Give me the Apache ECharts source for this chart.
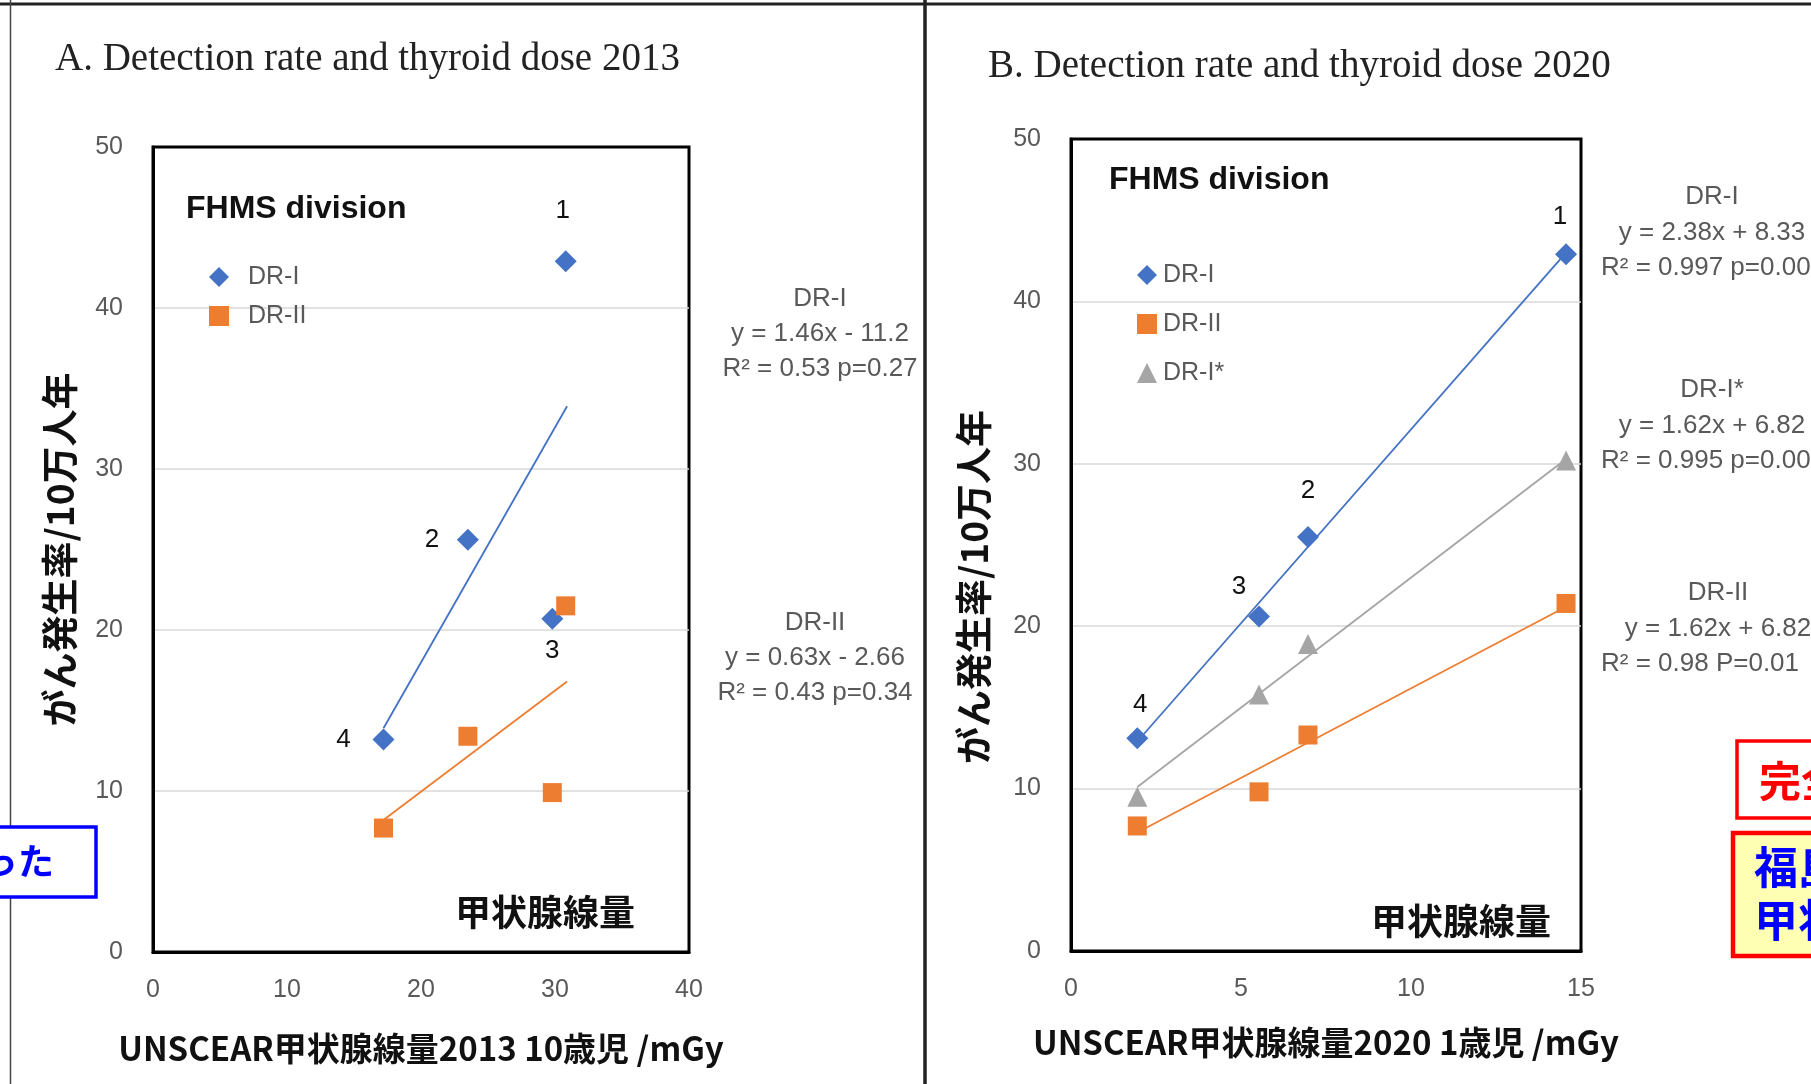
<!DOCTYPE html>
<html>
<head>
<meta charset="utf-8">
<script src="https://cdn.jsdelivr.net/npm/echarts@6/dist/echarts.min.js"></script>
<style>
  html, body { margin: 0; padding: 0; background: #fff; }
  #main { width: 1811px; height: 1084px; }
</style>
</head>
<body>
<div id="main"></div>
<script>
// district numbers 1..4
const pointNames = ['1', '2', '3', '4'];

// A: UNSCEAR 2013 thyroid dose, 10 year old (mGy)
const doseA = [30.8, 23.5, 29.8, 17.2];
const dr1A = [42.9, 25.6, 20.7, 13.2];
const dr2A = [21.5, 13.4, 9.9, 7.7];
const fitDr1A = [[17.2, 13.9], [30.9, 33.9]];
const fitDr2A = [[17.2, 8.2], [30.9, 16.8]];

// B: UNSCEAR 2020 thyroid dose, 1 year old (mGy)
const doseB = [14.56, 6.97, 5.53, 1.95];
const dr1B = [42.9, 25.5, 20.6, 13.1];
const dr2B = [21.4, 13.3, 9.8, 7.7];
const dr1sB = [30.2, 18.9, 15.8, 9.5];
const fitDr1B = [[1.95, 12.9], [14.56, 43.0]];
const fitDr2B = [[1.95, 7.3], [14.56, 21.2]];
const fitDr1sB = [[1.95, 10.1], [14.56, 30.3]];

// trend line texts
const eqA = [['DR-I', 'y = 1.46x - 11.2', 'R² = 0.53 p=0.27'], ['DR-II', 'y = 0.63x - 2.66', 'R² = 0.43 p=0.34']];
const eqB = [['DR-I', 'y = 2.38x + 8.33', 'R² = 0.997 p=0.001'], ['DR-I*', 'y = 1.62x + 6.82', 'R² = 0.995 p=0.002'], ['DR-II', 'y = 1.62x + 6.82', 'R² = 0.98 P=0.01']];

const BLUE = '#4472C4', ORANGE = '#ED7D31', GRAY = '#A5A5A5';
const SANS = 'Liberation Sans, Arial, sans-serif';
const CJK = 'Noto Sans CJK JP, sans-serif';

// label offsets for the point numbers
const offA = [[-3, -50], [-36, 0], [0, 32], [-40, 0]];
const offB = [[-6, -37], [0, -46], [-20, -30], [3, -33]];

function pts(xs, ys) {
  return xs.map(function (x, i) { return [x, ys[i]]; });
}
function labelled(xs, ys, offs) {
  return xs.map(function (x, i) {
    return {
      name: pointNames[i],
      value: [x, ys[i]],
      label: { show: true, position: 'inside', offset: offs[i], formatter: '{b}',
        color: '#111', fontSize: 26, fontFamily: SANS }
    };
  });
}

function xAxis(idx, max, interval, name, gap) {
  return {
    gridIndex: idx, type: 'value', min: 0, max: max, interval: interval,
    name: name, nameLocation: 'middle', nameGap: gap,
    nameTextStyle: { fontFamily: CJK, fontWeight: 'bold', fontSize: 33, color: '#111' },
    axisLine: { show: true, onZero: false, lineStyle: { color: '#000', width: 3 } },
    axisTick: { show: false }, splitLine: { show: false },
    axisLabel: { margin: 26, fontSize: 25, color: '#595959', fontFamily: SANS }
  };
}
function yAxis(idx, gap, pad) {
  return {
    gridIndex: idx, type: 'value', min: 0, max: 50, interval: 10,
    name: 'がん発生率/10万人年', nameLocation: 'middle', nameGap: gap,
    nameTextStyle: { fontFamily: CJK, fontWeight: 'bold', fontSize: 37, color: '#111', padding: pad },
    axisLine: { show: true, onZero: false, lineStyle: { color: '#000', width: 3 } },
    axisTick: { show: false },
    splitLine: { showMinLine: false, showMaxLine: false, lineStyle: { color: '#D9D9D9', width: 1.5 } },
    axisLabel: { margin: 30, fontSize: 25, color: '#595959', fontFamily: SANS }
  };
}
function scatter(name, idx, data, symbol, color, size) {
  return { name: name, type: 'scatter', xAxisIndex: idx, yAxisIndex: idx, data: data,
    symbol: symbol, symbolSize: size, itemStyle: { color: color, opacity: 1 }, z: 5 };
}
function fit(idx, data, color) {
  return { name: 'fit', type: 'line', xAxisIndex: idx, yAxisIndex: idx, data: data,
    showSymbol: false, silent: true, lineStyle: { color: color, width: 1.8 }, z: 3 };
}
function txt(text, x, y, size, opts) {
  opts = opts || {};
  return { type: 'text', z: 10, style: {
    text: text, x: x, y: y, fill: opts.fill || '#595959',
    font: (opts.weight || 'normal') + ' ' + size + 'px ' + (opts.family || SANS),
    align: opts.align || 'center', verticalAlign: 'middle' } };
}

const graphics = [
  { type: 'line', shape: { x1: 0, y1: 4, x2: 1811, y2: 4 }, style: { stroke: '#222', lineWidth: 3 } },
  { type: 'line', shape: { x1: 10.5, y1: 0, x2: 10.5, y2: 1084 }, style: { stroke: '#444', lineWidth: 1.5 } },
  { type: 'line', shape: { x1: 925, y1: 0, x2: 925, y2: 1084 }, style: { stroke: '#222', lineWidth: 3.5 } },
  // partial boxes from the slide
  { type: 'rect', shape: { x: -10, y: 827, width: 106, height: 70 }, style: { fill: '#fff', stroke: '#0000FF', lineWidth: 3.5 } },
  txt('かった', 54, 861, 36, { fill: '#0000FF', weight: 'bold', family: CJK, align: 'right' }),
  { type: 'rect', shape: { x: 1737, y: 741, width: 200, height: 77 }, style: { fill: '#fff', stroke: '#FF0000', lineWidth: 3.5 } },
  txt('完全', 1759, 781, 42, { fill: '#FF0000', weight: 'bold', family: CJK, align: 'left' }),
  { type: 'rect', shape: { x: 1733, y: 833, width: 200, height: 123 }, style: { fill: '#FFFFB3', stroke: '#FF0000', lineWidth: 4.5 } },
  txt('福島県', 1754, 867, 44, { fill: '#0000FF', weight: 'bold', family: CJK, align: 'left' }),
  txt('甲状腺', 1754, 920, 44, { fill: '#0000FF', weight: 'bold', family: CJK, align: 'left' }),
  // titles
  txt('A. Detection rate and thyroid dose 2013', 55, 60, 39, { fill: '#222', family: 'Liberation Serif, serif', align: 'left' }),
  txt('B. Detection rate and thyroid dose 2020', 988, 67, 39, { fill: '#222', family: 'Liberation Serif, serif', align: 'left' }),
  // in-plot texts
  txt('FHMS division', 186, 209, 32, { fill: '#111', weight: 'bold', align: 'left' }),
  txt('FHMS division', 1109, 180, 32, { fill: '#111', weight: 'bold', align: 'left' }),
  txt('甲状腺線量', 545, 912, 36, { fill: '#111', weight: 'bold', family: CJK }),
  txt('甲状腺線量', 1461, 921, 36, { fill: '#111', weight: 'bold', family: CJK })
];
// equations
[[820, 299], [815, 623]].forEach(function (p, i) {
  eqA[i].forEach(function (line, j) { graphics.push(txt(line, p[0], p[1] + j * 35, 26)); });
});
[[1712, 197], [1712, 390], [1718, 593]].forEach(function (p, i) {
  graphics.push(txt(eqB[i][0], p[0], p[1], 26));
  graphics.push(txt(eqB[i][1], p[0], p[1] + 36, 26));
  graphics.push(txt(eqB[i][2], 1601, p[1] + 71, 26, { align: 'left' }));
});

const legendBase = {
  orient: 'vertical', itemWidth: 20, itemHeight: 20,
  textStyle: { fontSize: 25, color: '#595959', fontFamily: SANS, lineHeight: 30 },
  selectedMode: false
};

const chart = echarts.init(document.getElementById('main'));
chart.setOption({
  animation: false,
  backgroundColor: '#fff',
  grid: [
    { left: 153, top: 147, width: 536, height: 805, show: true, borderColor: '#000', borderWidth: 3 },
    { left: 1071, top: 139, width: 510, height: 812, show: true, borderColor: '#000', borderWidth: 3 }
  ],
  xAxis: [
    xAxis(0, 40, 10, 'UNSCEAR甲状腺線量2013 10歳児 /mGy', 80),
    xAxis(1, 15, 5, 'UNSCEAR甲状腺線量2020 1歳児 /mGy', 75)
  ],
  yAxis: [yAxis(0, 75, 0), yAxis(1, 79, [0, 84, 0, 0])],
  legend: [
    Object.assign({}, legendBase, { left: 204, top: 257, itemGap: 9,
      data: [{ name: 'DR-I', icon: 'diamond' }, { name: 'DR-II', icon: 'rect' }],
      textStyle: Object.assign({}, legendBase.textStyle, { padding: [0, 0, 0, 14] }) }),
    Object.assign({}, legendBase, { left: 1132, top: 255, itemGap: 19,
      data: [{ name: 'DR-I', icon: 'diamond' }, { name: 'DR-II', icon: 'rect' }, { name: 'DR-I*', icon: 'triangle' }],
      textStyle: Object.assign({}, legendBase.textStyle, { padding: [0, 0, 0, 1] }) })
  ],
  graphic: graphics,
  series: [
    fit(0, fitDr1A, BLUE),
    fit(0, fitDr2A, ORANGE),
    scatter('DR-I', 0, labelled(doseA, dr1A, offA), 'diamond', BLUE, 22),
    scatter('DR-II', 0, pts(doseA, dr2A), 'rect', ORANGE, 19),
    fit(1, fitDr1B, BLUE),
    fit(1, fitDr2B, ORANGE),
    fit(1, fitDr1sB, GRAY),
    scatter('DR-I', 1, labelled(doseB, dr1B, offB), 'diamond', BLUE, 22),
    scatter('DR-II', 1, pts(doseB, dr2B), 'rect', ORANGE, 19),
    scatter('DR-I*', 1, pts(doseB, dr1sB), 'triangle', GRAY, 20)
  ]
});
</script>
</body>
</html>
